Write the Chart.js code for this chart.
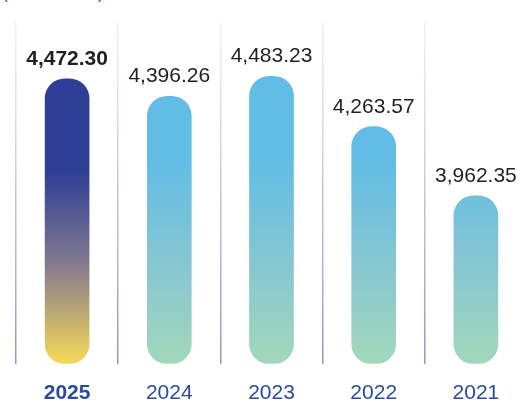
<!DOCTYPE html>
<html lang="zh-Hant">
<head>
  <meta charset="UTF-8">
  <script src="https://cdn.jsdelivr.net/npm/chart.js"></script>
  <title>年度營收</title>
  <style>
    html, body { margin: 0; padding: 0; background: #fff; overflow: hidden; }
    #wrap { position: relative; width: 528px; height: 423px; }
  </style>
</head>
<body>
  <div id="wrap"><canvas id="revChart"></canvas></div>
  <script>
    const years = ['2025', '2024', '2023', '2022', '2021'];
    const revenue = [4472.30, 4396.26, 4483.23, 4263.57, 3962.35];
    const unitText = '(單位：億元)';
    const axisMin = 3230;
    const axisMax = 4720;

    const FONT = "'Liberation Sans', Arial, 'Noto Sans CJK TC', sans-serif";

    // fill each bar with a vertical gradient tied to the chart area
    function barFill(ctx) {
      const chart = ctx.chart;
      const area = chart.chartArea;
      if (!area) return '#62bde6';
      const h = area.bottom - area.top;
      const g = chart.ctx.createLinearGradient(0, area.top, 0, area.bottom);
      if (ctx.dataIndex === 0) {
        g.addColorStop(0, '#2f3e96');
        g.addColorStop(Math.max(0, (172 - area.top) / h), '#2f3e96');
        g.addColorStop((262 - area.top) / h, '#81788f');
        g.addColorStop(1, '#f5da58');
      } else {
        g.addColorStop(0, '#62bde6');
        g.addColorStop(Math.max(0, (160 - area.top) / h), '#62bde6');
        g.addColorStop((262 - area.top) / h, '#86c6d2');
        g.addColorStop(1, '#a2d8ba');
      }
      return g;
    }

    function gridFill(ctx) {
      const chart = ctx.chart;
      const area = chart.chartArea;
      if (!area) return '#9a9ad0';
      const g = chart.ctx.createLinearGradient(0, area.top, 0, area.bottom);
      g.addColorStop(0, 'rgba(210,210,240,0.35)');
      g.addColorStop(0.5, 'rgba(180,180,225,0.8)');
      g.addColorStop(1, '#9494cf');
      return g;
    }

    const valueLabels = {
      id: 'valueLabels',
      afterDatasetsDraw(chart) {
        const ctx = chart.ctx;
        const meta = chart.getDatasetMeta(0);
        ctx.save();
        ctx.textAlign = 'center';
        ctx.textBaseline = 'alphabetic';
        ctx.fillStyle = '#231f20';
        meta.data.forEach((bar, i) => {
          ctx.font = (i === 0 ? 'bold ' : '') + '21px ' + FONT;
          const txt = revenue[i].toLocaleString('en-US', { minimumFractionDigits: 2, maximumFractionDigits: 2 });
          ctx.fillText(txt, bar.x, bar.y - 14);
        });
        // unit caption at the top edge
        ctx.textAlign = 'left';
        ctx.fillStyle = '#3a5cc0';
        ctx.font = '18px ' + FONT;
        ctx.fillText(unitText, 2, -2);
        ctx.restore();
      }
    };

    new Chart(document.getElementById('revChart'), {
      type: 'bar',
      data: {
        labels: years,
        datasets: [{
          data: revenue,
          base: axisMin,
          backgroundColor: barFill,
          borderRadius: 20,
          borderSkipped: false,
          barThickness: 44
        }]
      },
      options: {
        responsive: true,
        maintainAspectRatio: false,
        animation: false,
        layout: { padding: { left: 16, right: 1, top: 22, bottom: 0 } },
        plugins: { legend: { display: false }, tooltip: { enabled: false } },
        scales: {
          x: {
            grid: { color: gridFill, lineWidth: 1.5, drawTicks: false, offset: true },
            border: { display: false },
            ticks: {
              padding: 17,
              color: '#2a4a9c',
              font: (c) => ({ family: FONT, size: 21, weight: c.index === 0 ? 'bold' : 'normal' })
            }
          },
          y: {
            display: false,
            min: axisMin,
            max: axisMax
          }
        }
      },
      plugins: [valueLabels]
    });
  </script>
</body>
</html>
